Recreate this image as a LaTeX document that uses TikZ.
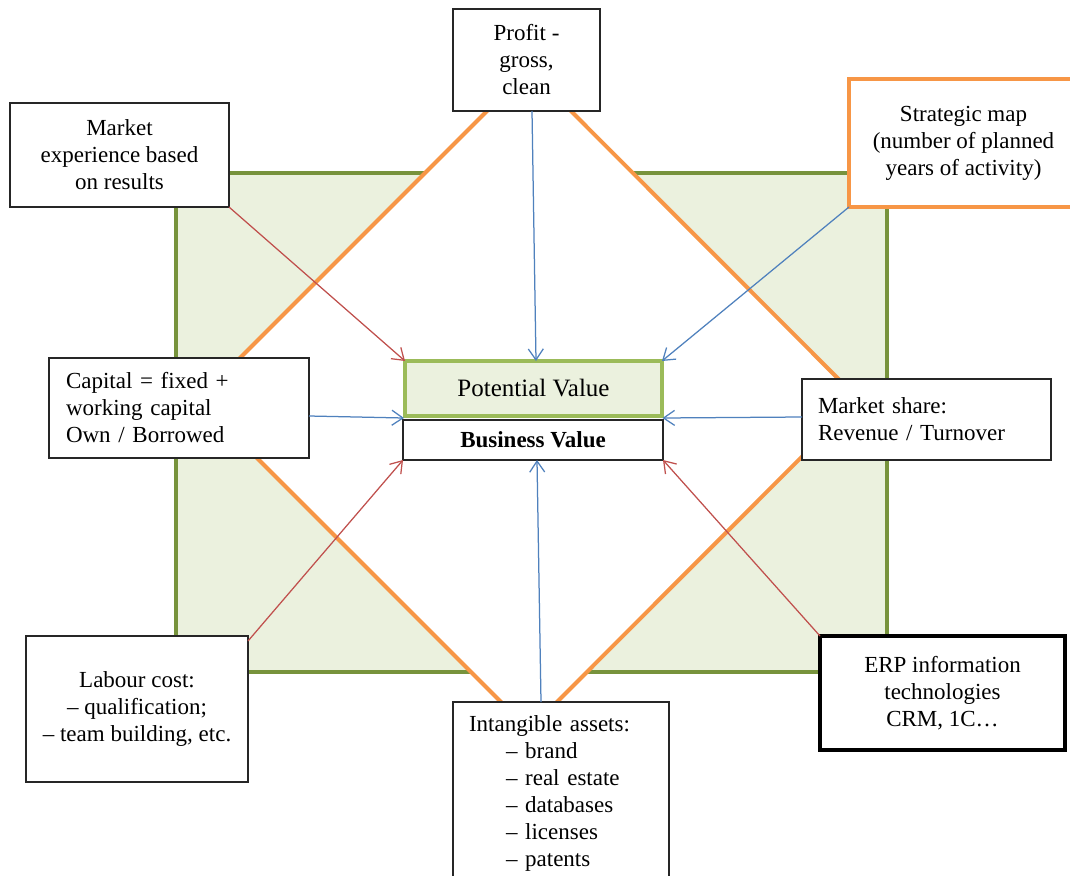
\documentclass[tikz,border=0pt]{standalone}
\usepackage{fontspec}
\setmainfont{Liberation Serif}
\usetikzlibrary{arrows.meta,calc}
\definecolor{gfill}{HTML}{EBF1DE}
\definecolor{gborder}{HTML}{77933C}
\definecolor{pborder}{HTML}{9BBB59}
\definecolor{orng}{HTML}{F79646}
\definecolor{redA}{HTML}{C0504D}
\definecolor{blueA}{HTML}{4F81BD}
\begin{document}
\begin{tikzpicture}[x=1pt,y=-1pt,
  box/.style={draw=black!85, line width=1.1pt, fill=white, inner sep=0pt, outer sep=0pt,
    font=\fontsize{23}{27}\selectfont, align=center},
  thickbox/.style={box, line width=4pt},
  arr/.style={line width=1.25pt, -{Straight Barb[length=11pt,width=15pt,line width=1.25pt]}},
  redarr/.style={arr, draw=redA},
  bluearr/.style={arr, draw=blueA}]
\clip (0,0) rectangle (1070,875);
% background rectangle
\draw[fill=gfill, draw=gborder, line width=4pt] (176,173) rectangle (887,672);
% diamond
\draw[fill=white, draw=orng, line width=4pt, line join=miter]
  (529,69) -- (859,399.5) -- (529,730) -- (198.5,399.5) -- cycle;
% nodes
\node[box, minimum width=147, minimum height=102] (profit) at (526.5,60) {Profit -\\gross,\\clean};
\node[box, minimum width=219, minimum height=104] (mexp) at (119.5,155) {Market\\experience based\\on results};
\node[thickbox, draw=orng, minimum width=229, minimum height=128] (strat) at (963.5,143) {Strategic map\\(number of planned\\years of activity)};
\node[box, minimum width=260, minimum height=100, text width=226, align=left] (capital) at (179,408) {Capital = fixed +\\working capital\\Own / Borrowed};
\node[box, minimum width=249, minimum height=81, text width=217, align=left] (mshare) at (926.5,419.5) {Market share:\\Revenue / Turnover\\[8pt]};
\node[thickbox, draw=pborder, fill=gfill, minimum width=257, minimum height=55, font=\fontsize{25}{30}\selectfont] (pot) at (533.5,388.5) {Potential Value};
\node[box, minimum width=260, minimum height=40, font=\fontsize{23}{27}\selectfont\bfseries] (bus) at (533,440) {Business Value};
\node[box, minimum width=222, minimum height=146] (labour) at (137,709) {Labour cost:\\– qualification;\\– team building, etc.};
\node[box, anchor=north west, minimum width=216, text width=184, inner xsep=16pt, inner ysep=14pt, align=left] (intang) at (453,702)
  {Intangible assets:\\\hspace*{37pt}– brand\\\hspace*{37pt}– real estate\\\hspace*{37pt}– databases\\\hspace*{37pt}– licenses\\\hspace*{37pt}– patents};
\node[thickbox, draw=black, minimum width=245, minimum height=114] (erp) at (942.5,693) {ERP information\\technologies\\CRM, 1C…};
% connectors
\draw[redarr] (mexp.south east) -- (pot.north west);
\draw[bluearr] ([xshift=5.5pt]profit.south) -- ([xshift=2.5pt]pot.north);
\draw[bluearr] (strat.south west) -- (pot.north east);
\draw[bluearr] ([yshift=-8pt]capital.east) -- ($(pot.south west)!0.5!(bus.north west)$);
\draw[bluearr] ([yshift=2.5pt]mshare.west) -- ($(pot.south east)!0.5!(bus.north east)$);
\draw[redarr] ([yshift=-5pt]labour.north east) -- (bus.south west);
\draw[bluearr] ([xshift=-20pt]intang.north) -- ([xshift=4pt]bus.south);
\draw[redarr] (erp.north west) -- (bus.south east);
\end{tikzpicture}
\end{document}
